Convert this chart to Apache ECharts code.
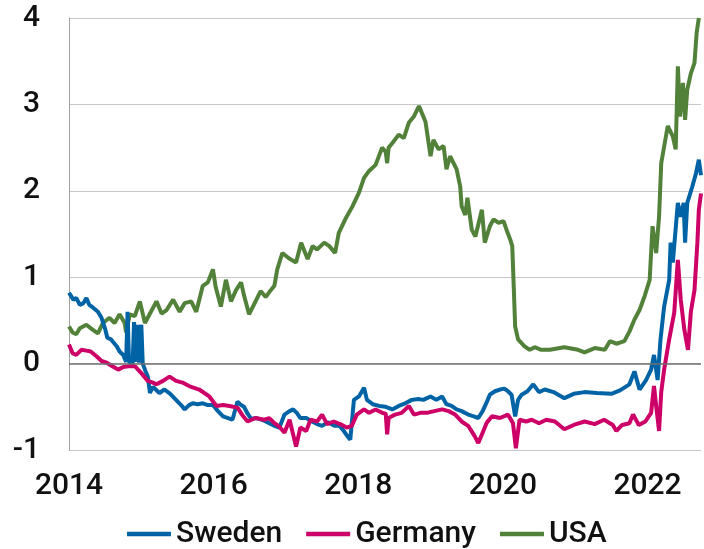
<!DOCTYPE html>
<html>
<head>
<meta charset="utf-8">
<script src="https://cdn.jsdelivr.net/npm/echarts@6/dist/echarts.min.js"></script>
<style>
  html, body { margin: 0; padding: 0; background: #fff; }
  #chart { width: 704px; height: 549px; }
</style>
</head>
<body>
<div id="chart"></div>
<script>
// series names, in legend order
var names = ['Sweden', 'Germany', 'USA'];

// [year, value]
var sweden = [
  [2014.00,0.82],[2014.06,0.74],[2014.10,0.76],[2014.15,0.68],[2014.20,0.70],[2014.24,0.76],[2014.28,0.68],
  [2014.33,0.65],[2014.40,0.60],[2014.45,0.53],[2014.50,0.40],[2014.53,0.30],[2014.58,0.28],[2014.61,0.25],
  [2014.66,0.20],[2014.70,0.14],[2014.75,0.10],[2014.79,0.02],[2014.81,0.60],[2014.83,0.02],[2014.88,0.00],
  [2014.90,0.48],[2014.92,0.02],[2014.95,0.45],[2014.97,0.01],[2015.00,0.45],[2015.02,0.00],[2015.05,-0.07],
  [2015.09,-0.15],[2015.12,-0.34],[2015.16,-0.27],[2015.20,-0.30],[2015.25,-0.34],[2015.32,-0.30],[2015.40,-0.35],
  [2015.48,-0.42],[2015.55,-0.48],[2015.60,-0.53],[2015.66,-0.48],[2015.71,-0.46],[2015.78,-0.47],[2015.85,-0.46],
  [2015.92,-0.48],[2015.99,-0.48],[2016.06,-0.55],[2016.13,-0.61],[2016.20,-0.63],[2016.26,-0.65],[2016.31,-0.50],
  [2016.33,-0.44],[2016.38,-0.48],[2016.42,-0.50],[2016.47,-0.58],[2016.52,-0.64],[2016.58,-0.63],[2016.63,-0.64],
  [2016.70,-0.66],[2016.77,-0.69],[2016.84,-0.72],[2016.91,-0.74],[2016.98,-0.59],[2017.05,-0.55],[2017.10,-0.53],
  [2017.15,-0.57],[2017.20,-0.63],[2017.28,-0.63],[2017.36,-0.67],[2017.43,-0.70],[2017.50,-0.72],[2017.58,-0.68],
  [2017.67,-0.72],[2017.74,-0.72],[2017.80,-0.78],[2017.85,-0.84],[2017.89,-0.88],[2017.94,-0.42],[2018.01,-0.38],
  [2018.08,-0.28],[2018.12,-0.42],[2018.20,-0.47],[2018.29,-0.49],[2018.38,-0.50],[2018.47,-0.53],[2018.56,-0.49],
  [2018.65,-0.46],[2018.74,-0.42],[2018.83,-0.41],[2018.90,-0.42],[2019.00,-0.38],[2019.08,-0.42],[2019.16,-0.38],
  [2019.22,-0.47],[2019.29,-0.49],[2019.36,-0.53],[2019.43,-0.55],[2019.52,-0.59],[2019.60,-0.61],[2019.66,-0.63],
  [2019.72,-0.55],[2019.78,-0.44],[2019.82,-0.36],[2019.89,-0.32],[2019.96,-0.30],[2020.02,-0.29],[2020.07,-0.32],
  [2020.12,-0.36],[2020.17,-0.61],[2020.21,-0.42],[2020.26,-0.36],[2020.34,-0.32],[2020.42,-0.24],[2020.50,-0.33],
  [2020.58,-0.30],[2020.70,-0.33],[2020.85,-0.40],[2020.98,-0.35],[2021.13,-0.33],[2021.30,-0.34],[2021.50,-0.35],
  [2021.62,-0.31],[2021.75,-0.24],[2021.82,-0.09],[2021.89,-0.30],[2021.98,-0.19],[2022.05,-0.07],[2022.09,0.10],
  [2022.14,-0.19],[2022.18,0.28],[2022.23,0.66],[2022.30,0.97],[2022.32,1.40],[2022.35,1.17],[2022.42,1.86],
  [2022.46,1.70],[2022.50,1.86],[2022.52,1.40],[2022.55,1.86],[2022.62,2.05],[2022.67,2.20],[2022.71,2.36],
  [2022.74,2.18]
];

var germany = [
  [2014.00,0.22],[2014.05,0.12],[2014.10,0.10],[2014.17,0.16],[2014.24,0.15],[2014.30,0.14],[2014.38,0.085],
  [2014.45,0.03],[2014.52,0.01],[2014.60,-0.03],[2014.68,-0.07],[2014.75,-0.04],[2014.82,-0.03],[2014.91,-0.03],
  [2015.00,-0.11],[2015.09,-0.20],[2015.16,-0.22],[2015.21,-0.24],[2015.30,-0.20],[2015.39,-0.15],[2015.48,-0.20],
  [2015.57,-0.22],[2015.66,-0.26],[2015.80,-0.30],[2015.94,-0.38],[2016.04,-0.49],[2016.13,-0.48],[2016.22,-0.49],
  [2016.33,-0.51],[2016.40,-0.60],[2016.47,-0.67],[2016.58,-0.63],[2016.70,-0.65],[2016.77,-0.63],[2016.84,-0.69],
  [2016.91,-0.73],[2016.98,-0.80],[2017.05,-0.65],[2017.14,-0.96],[2017.20,-0.74],[2017.28,-0.78],[2017.34,-0.65],
  [2017.43,-0.67],[2017.50,-0.59],[2017.57,-0.70],[2017.66,-0.67],[2017.75,-0.70],[2017.84,-0.74],[2017.91,-0.72],
  [2017.98,-0.59],[2018.08,-0.53],[2018.15,-0.57],[2018.24,-0.53],[2018.33,-0.57],[2018.38,-0.58],[2018.40,-0.82],
  [2018.42,-0.63],[2018.51,-0.59],[2018.60,-0.57],[2018.70,-0.49],[2018.77,-0.59],[2018.86,-0.57],[2018.95,-0.57],
  [2019.05,-0.55],[2019.16,-0.53],[2019.25,-0.55],[2019.34,-0.59],[2019.43,-0.67],[2019.52,-0.72],[2019.61,-0.84],
  [2019.66,-0.92],[2019.72,-0.80],[2019.78,-0.68],[2019.85,-0.61],[2019.96,-0.63],[2020.07,-0.59],[2020.14,-0.69],
  [2020.18,-0.98],[2020.23,-0.65],[2020.32,-0.67],[2020.40,-0.65],[2020.50,-0.69],[2020.60,-0.65],[2020.72,-0.67],
  [2020.85,-0.76],[2020.98,-0.71],[2021.13,-0.67],[2021.27,-0.70],[2021.40,-0.65],[2021.52,-0.71],[2021.57,-0.78],
  [2021.65,-0.71],[2021.75,-0.69],[2021.80,-0.59],[2021.88,-0.71],[2021.97,-0.67],[2022.05,-0.57],[2022.09,-0.26],
  [2022.12,-0.49],[2022.16,-0.78],[2022.19,-0.33],[2022.23,-0.07],[2022.30,0.28],[2022.37,0.59],[2022.42,1.20],
  [2022.46,0.74],[2022.51,0.39],[2022.56,0.16],[2022.60,0.60],[2022.65,0.85],[2022.69,1.40],[2022.71,1.78],
  [2022.74,1.97]
];

var usa = [
  [2014.00,0.43],[2014.05,0.36],[2014.10,0.34],[2014.15,0.41],[2014.24,0.45],[2014.33,0.39],[2014.40,0.35],
  [2014.47,0.47],[2014.56,0.53],[2014.63,0.47],[2014.70,0.57],[2014.77,0.47],[2014.79,0.36],[2014.84,0.57],
  [2014.91,0.55],[2014.98,0.72],[2015.05,0.47],[2015.12,0.58],[2015.21,0.72],[2015.28,0.58],[2015.35,0.62],
  [2015.44,0.74],[2015.53,0.60],[2015.60,0.70],[2015.69,0.72],[2015.76,0.60],[2015.85,0.90],[2015.92,0.94],
  [2015.99,1.09],[2016.03,0.88],[2016.10,0.66],[2016.17,0.97],[2016.24,0.72],[2016.31,0.85],[2016.38,0.94],
  [2016.42,0.79],[2016.49,0.57],[2016.58,0.72],[2016.65,0.84],[2016.72,0.77],[2016.79,0.85],[2016.84,0.90],
  [2016.88,1.09],[2016.95,1.28],[2017.04,1.22],[2017.14,1.17],[2017.21,1.40],[2017.30,1.21],[2017.37,1.36],
  [2017.43,1.32],[2017.53,1.40],[2017.60,1.36],[2017.68,1.28],[2017.73,1.51],[2017.82,1.67],[2017.92,1.82],
  [2018.01,1.98],[2018.08,2.15],[2018.15,2.23],[2018.24,2.30],[2018.33,2.50],[2018.38,2.45],[2018.40,2.32],
  [2018.42,2.50],[2018.47,2.55],[2018.56,2.65],[2018.63,2.61],[2018.70,2.79],[2018.77,2.86],[2018.84,2.98],
  [2018.93,2.80],[2019.00,2.40],[2019.04,2.59],[2019.11,2.48],[2019.18,2.52],[2019.22,2.25],[2019.27,2.40],
  [2019.36,2.25],[2019.41,2.05],[2019.43,1.82],[2019.48,1.72],[2019.51,1.92],[2019.57,1.55],[2019.62,1.47],
  [2019.71,1.78],[2019.75,1.40],[2019.82,1.59],[2019.87,1.67],[2019.94,1.63],[2020.01,1.65],[2020.05,1.55],
  [2020.10,1.44],[2020.13,1.36],[2020.15,0.90],[2020.17,0.43],[2020.21,0.28],[2020.30,0.20],[2020.37,0.16],
  [2020.44,0.19],[2020.53,0.16],[2020.65,0.16],[2020.85,0.19],[2021.04,0.16],[2021.13,0.13],[2021.27,0.18],
  [2021.41,0.16],[2021.48,0.26],[2021.57,0.23],[2021.68,0.26],[2021.75,0.37],[2021.82,0.51],[2021.89,0.62],
  [2021.96,0.78],[2022.03,0.97],[2022.07,1.59],[2022.12,1.28],[2022.16,1.70],[2022.19,2.32],[2022.23,2.51],
  [2022.28,2.75],[2022.35,2.63],[2022.39,2.48],[2022.42,3.44],[2022.45,2.86],[2022.49,3.25],[2022.52,2.82],
  [2022.55,3.17],[2022.60,3.36],[2022.65,3.48],[2022.68,3.83],[2022.71,4.00]
];

var colors = { Sweden: '#0063A6', Germany: '#CC0066', USA: '#52813A' };

var chart = echarts.init(document.getElementById('chart'));

var labelFont = { fontSize: 30, fontWeight: 500, color: '#111111', fontFamily: 'Roboto' };

var option = {
  animation: false,
  backgroundColor: '#ffffff',
  textStyle: { fontFamily: 'Roboto' },
  grid: { left: 69, right: 1, top: 18, bottom: 99, containLabel: false },
  legend: {
    data: names,
    left: 122,
    top: 514,
    icon: 'rect',
    itemWidth: 44,
    itemHeight: 4.5,
    itemGap: 24,
    textStyle: labelFont
  },
  xAxis: {
    type: 'value',
    min: 2014,
    max: 2022.74,
    interval: 2,
    axisLine: { show: false },
    axisTick: { show: false },
    splitLine: { show: false },
    axisLabel: Object.assign({
      margin: 21,
      formatter: function(v) { return v % 2 === 0 ? String(v) : ''; }
    }, labelFont)
  },
  yAxis: {
    type: 'value',
    min: -1,
    max: 4,
    interval: 1,
    axisLine: { show: true, lineStyle: { color: '#a0a0a0', width: 1 } },
    axisTick: { show: false },
    splitLine: { show: true, lineStyle: { color: '#c8c8c8', width: 1 } },
    axisLabel: Object.assign({ margin: 29 }, labelFont)
  },
  series: [
    {
      name: 'USA', type: 'line', data: usa, showSymbol: false,
      lineStyle: { width: 4, color: colors.USA }, itemStyle: { color: colors.USA },
      markLine: {
        silent: true, symbol: 'none', label: { show: false },
        lineStyle: { color: '#707070', width: 1.5, type: 'solid' },
        data: [{ yAxis: 0 }]
      },
      z: 2
    },
    {
      name: 'Sweden', type: 'line', data: sweden, showSymbol: false,
      lineStyle: { width: 4, color: colors.Sweden }, itemStyle: { color: colors.Sweden },
      z: 3
    },
    {
      name: 'Germany', type: 'line', data: germany, showSymbol: false,
      lineStyle: { width: 4, color: colors.Germany }, itemStyle: { color: colors.Germany },
      z: 4
    }
  ]
};

chart.setOption(option);
</script>
</body>
</html>
